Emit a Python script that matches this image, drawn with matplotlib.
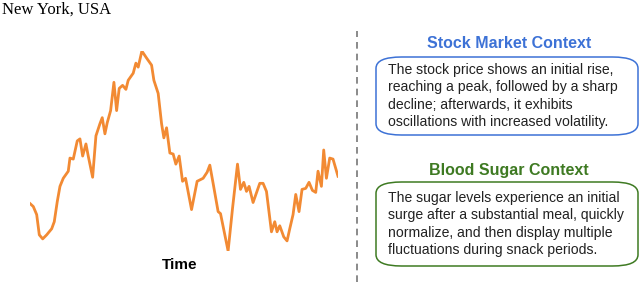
import matplotlib.pyplot as plt
from matplotlib.patches import FancyBboxPatch

# series (time index, value)
t = [0, 3.3, 6.7, 9.3, 12.7, 16.7, 21.7, 24.3, 27.3, 30, 33.3, 38.3, 40, 43.3, 47.3, 50,
     52.7, 56, 58.3, 62.7, 66, 70, 72.3, 75, 77.3, 80.7, 84, 86.7, 89.3, 92.7, 96, 98.3,
     103.3, 106, 108.3, 112, 116.7, 121.7, 124, 128.3, 131.7, 134, 136.7, 140, 143.3, 146,
     149.3, 152.7, 155.7, 161.7, 167.3, 173.3, 177.3, 180, 183.3, 188.3, 190.7, 198.3,
     202.7, 207.7, 210.7, 214, 216.7, 219.3, 223.3, 230, 233.3, 236.7, 241.7, 245, 247.3,
     250, 254, 257.3, 260, 263.3, 266, 269.3, 272.3, 276, 279.3, 282.7, 286, 288.3, 291.7,
     294, 296.7, 300, 303.3, 308.3]
value = [80, 77, 69, 49, 45, 49, 55, 62, 82, 97, 105, 112, 125, 124, 142, 144,
         127, 139, 127, 106, 147, 159, 165, 149, 160, 172, 200, 172, 194, 197, 193, 202,
         209, 219, 215, 231, 224, 217, 202, 189, 159, 145, 155, 130, 129, 119, 127, 102,
         105, 74, 102, 105, 111, 118, 100, 72, 70, 33, 75, 119, 94, 101, 92, 97,
         81, 100, 100, 92, 52, 62, 52, 58, 47, 43, 55, 69, 89, 72, 94, 95,
         101, 93, 91, 112, 97, 133, 105, 125, 124, 107]

stock_title = "Stock Market Context"
stock_text = ("The stock price shows an initial rise,\n"
              "reaching a peak, followed by a sharp\n"
              "decline; afterwards, it exhibits\n"
              "oscillations with increased volatility.")
sugar_title = "Blood Sugar Context"
sugar_text = ("The sugar levels experience an initial\n"
              "surge after a substantial meal, quickly\n"
              "normalize, and then display multiple\n"
              "fluctuations during snack periods.")

W, H = 640, 282
fig = plt.figure(figsize=(6.4, 2.82), dpi=100)
sans = ['Liberation Sans', 'DejaVu Sans']

# line chart
ax = fig.add_axes([30 / W, 1 - 251 / H, 308 / W, 200 / H])
ax.plot(t, value, color='#f28a33', lw=2.0, solid_joinstyle='round')
ax.set_xlim(min(t), max(t))
ax.set_ylim(min(value), max(value))
ax.margins(0)
ax.axis('off')

fig.text(180 / W, 1 - 265 / H, "Time", ha='center', va='center', fontsize=11,
         fontweight='bold', family=sans)

# caption left over from the page above
fig.text(2 / W, 1 - 2 / H, "New York, USA", ha='left', va='top',
         fontsize=12, family=['Liberation Serif'])

# divider
fig.add_artist(plt.Line2D([357 / W, 357 / W], [0, 1 - 31 / H], color='#777777',
                          lw=1.2, ls=(0, (4, 3))))

def panel(title, body, color, y_title, y0, y1):
    fig.text(509 / W, 1 - y_title / H, title, ha='center', va='center', fontsize=11.5,
             fontweight='bold', color=color, family=sans)
    box = FancyBboxPatch((376 / W, 1 - y1 / H), 262 / W, (y1 - y0) / H,
                         boxstyle='round,pad=0,rounding_size=0.04',
                         transform=fig.transFigure, fc='white', ec=color, lw=1.1)
    fig.add_artist(box)
    fig.text(388 / W, 1 - (y0 + y1) / 2 / H, body, ha='left', va='center',
             fontsize=10.1, linespacing=1.3, color='#222222', family=sans)

panel(stock_title, stock_text, '#3d72d6', 43, 57, 135)
panel(sugar_title, sugar_text, '#3e7a22', 170, 182, 266)

fig.savefig('out.png', dpi=100)
